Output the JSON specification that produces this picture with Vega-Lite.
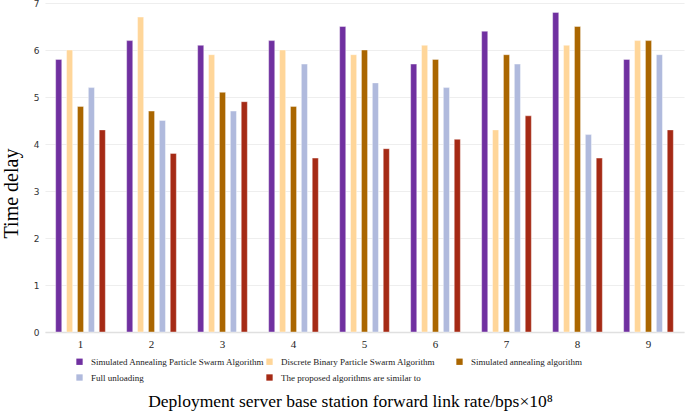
{
  "$schema": "https://vega.github.io/schema/vega-lite/v6.json",
  "width": 639,
  "height": 329,
  "autosize": {"type": "none"},
  "padding": {"left": 45, "top": 3, "right": 1, "bottom": 80},
  "background": "white",
  "config": {"view": {"stroke": null}},
  "data": {
    "values": [
      {"rate": "1", "alg": "Simulated Annealing Particle Swarm Algorithm", "delay": 5.8},
      {"rate": "1", "alg": "Discrete Binary Particle Swarm Algorithm", "delay": 6.0},
      {"rate": "1", "alg": "Simulated annealing algorithm", "delay": 4.8},
      {"rate": "1", "alg": "Full unloading", "delay": 5.2},
      {"rate": "1", "alg": "The proposed algorithms are similar to", "delay": 4.3},
      {"rate": "2", "alg": "Simulated Annealing Particle Swarm Algorithm", "delay": 6.2},
      {"rate": "2", "alg": "Discrete Binary Particle Swarm Algorithm", "delay": 6.7},
      {"rate": "2", "alg": "Simulated annealing algorithm", "delay": 4.7},
      {"rate": "2", "alg": "Full unloading", "delay": 4.5},
      {"rate": "2", "alg": "The proposed algorithms are similar to", "delay": 3.8},
      {"rate": "3", "alg": "Simulated Annealing Particle Swarm Algorithm", "delay": 6.1},
      {"rate": "3", "alg": "Discrete Binary Particle Swarm Algorithm", "delay": 5.9},
      {"rate": "3", "alg": "Simulated annealing algorithm", "delay": 5.1},
      {"rate": "3", "alg": "Full unloading", "delay": 4.7},
      {"rate": "3", "alg": "The proposed algorithms are similar to", "delay": 4.9},
      {"rate": "4", "alg": "Simulated Annealing Particle Swarm Algorithm", "delay": 6.2},
      {"rate": "4", "alg": "Discrete Binary Particle Swarm Algorithm", "delay": 6.0},
      {"rate": "4", "alg": "Simulated annealing algorithm", "delay": 4.8},
      {"rate": "4", "alg": "Full unloading", "delay": 5.7},
      {"rate": "4", "alg": "The proposed algorithms are similar to", "delay": 3.7},
      {"rate": "5", "alg": "Simulated Annealing Particle Swarm Algorithm", "delay": 6.5},
      {"rate": "5", "alg": "Discrete Binary Particle Swarm Algorithm", "delay": 5.9},
      {"rate": "5", "alg": "Simulated annealing algorithm", "delay": 6.0},
      {"rate": "5", "alg": "Full unloading", "delay": 5.3},
      {"rate": "5", "alg": "The proposed algorithms are similar to", "delay": 3.9},
      {"rate": "6", "alg": "Simulated Annealing Particle Swarm Algorithm", "delay": 5.7},
      {"rate": "6", "alg": "Discrete Binary Particle Swarm Algorithm", "delay": 6.1},
      {"rate": "6", "alg": "Simulated annealing algorithm", "delay": 5.8},
      {"rate": "6", "alg": "Full unloading", "delay": 5.2},
      {"rate": "6", "alg": "The proposed algorithms are similar to", "delay": 4.1},
      {"rate": "7", "alg": "Simulated Annealing Particle Swarm Algorithm", "delay": 6.4},
      {"rate": "7", "alg": "Discrete Binary Particle Swarm Algorithm", "delay": 4.3},
      {"rate": "7", "alg": "Simulated annealing algorithm", "delay": 5.9},
      {"rate": "7", "alg": "Full unloading", "delay": 5.7},
      {"rate": "7", "alg": "The proposed algorithms are similar to", "delay": 4.6},
      {"rate": "8", "alg": "Simulated Annealing Particle Swarm Algorithm", "delay": 6.8},
      {"rate": "8", "alg": "Discrete Binary Particle Swarm Algorithm", "delay": 6.1},
      {"rate": "8", "alg": "Simulated annealing algorithm", "delay": 6.5},
      {"rate": "8", "alg": "Full unloading", "delay": 4.2},
      {"rate": "8", "alg": "The proposed algorithms are similar to", "delay": 3.7},
      {"rate": "9", "alg": "Simulated Annealing Particle Swarm Algorithm", "delay": 5.8},
      {"rate": "9", "alg": "Discrete Binary Particle Swarm Algorithm", "delay": 6.2},
      {"rate": "9", "alg": "Simulated annealing algorithm", "delay": 6.2},
      {"rate": "9", "alg": "Full unloading", "delay": 5.9},
      {"rate": "9", "alg": "The proposed algorithms are similar to", "delay": 4.3}
    ]
  },
  "mark": {"type": "bar", "stroke": "#ffffff", "strokeOpacity": 0.5, "strokeWidth": 0.8},
  "encoding": {
    "x": {
      "field": "rate",
      "type": "nominal",
      "sort": null,
      "scale": {"paddingInner": 0.3, "paddingOuter": 0.15},
      "axis": {
        "title": "Deployment server base station forward link rate/bps×10⁸",
        "titleFont": "Liberation Serif",
        "titleFontSize": 17.5,
        "titleFontWeight": "normal",
        "titleColor": "#000000",
        "titleX": 305,
        "titleY": 69,
        "titleAlign": "center",
        "titleBaseline": "middle",
        "labelFont": "Liberation Serif",
        "labelFontSize": 11,
        "labelColor": "#222222",
        "labelAngle": 0,
        "labelPadding": 6,
        "ticks": false,
        "domain": true,
        "domainColor": "#e0e0e0",
        "domainWidth": 1.5
      }
    },
    "xOffset": {
      "field": "alg",
      "type": "nominal",
      "sort": null,
      "scale": {"paddingInner": 0.44, "paddingOuter": 0}
    },
    "y": {
      "field": "delay",
      "type": "quantitative",
      "scale": {"domain": [0, 7], "nice": false},
      "axis": {
        "title": "Time delay",
        "titleFont": "Liberation Serif",
        "titleFontSize": 20,
        "titleFontWeight": "normal",
        "titleColor": "#000000",
        "titleX": -34,
        "titleY": 190,
        "titleAngle": -90,
        "titleAlign": "center",
        "titleBaseline": "middle",
        "labelFont": "DejaVu Sans",
        "labelFontSize": 9,
        "labelColor": "#333333",
        "labelPadding": 6,
        "tickCount": 7,
        "ticks": false,
        "domain": false,
        "gridColor": "#eeeeee",
        "gridWidth": 1.2
      }
    },
    "color": {
      "field": "alg",
      "type": "nominal",
      "sort": null,
      "scale": {
        "domain": [
          "Simulated Annealing Particle Swarm Algorithm",
          "Discrete Binary Particle Swarm Algorithm",
          "Simulated annealing algorithm",
          "Full unloading",
          "The proposed algorithms are similar to"
        ],
        "range": ["#7030a0", "#ffd699", "#aa6600", "#b0badd", "#a52a15"]
      },
      "legend": {
        "title": null,
        "orient": "none",
        "legendX": 30,
        "legendY": 354,
        "direction": "horizontal",
        "columns": 3,
        "gridAlign": "all",
        "symbolType": "square",
        "symbolSize": 40,
        "symbolStrokeWidth": 0,
        "labelFont": "Liberation Serif",
        "labelFontSize": 9,
        "labelColor": "#222222",
        "labelLimit": 300,
        "labelOffset": 7,
        "rowPadding": 6,
        "columnPadding": 0,
        "symbolOffset": 0
      }
    }
  }
}
